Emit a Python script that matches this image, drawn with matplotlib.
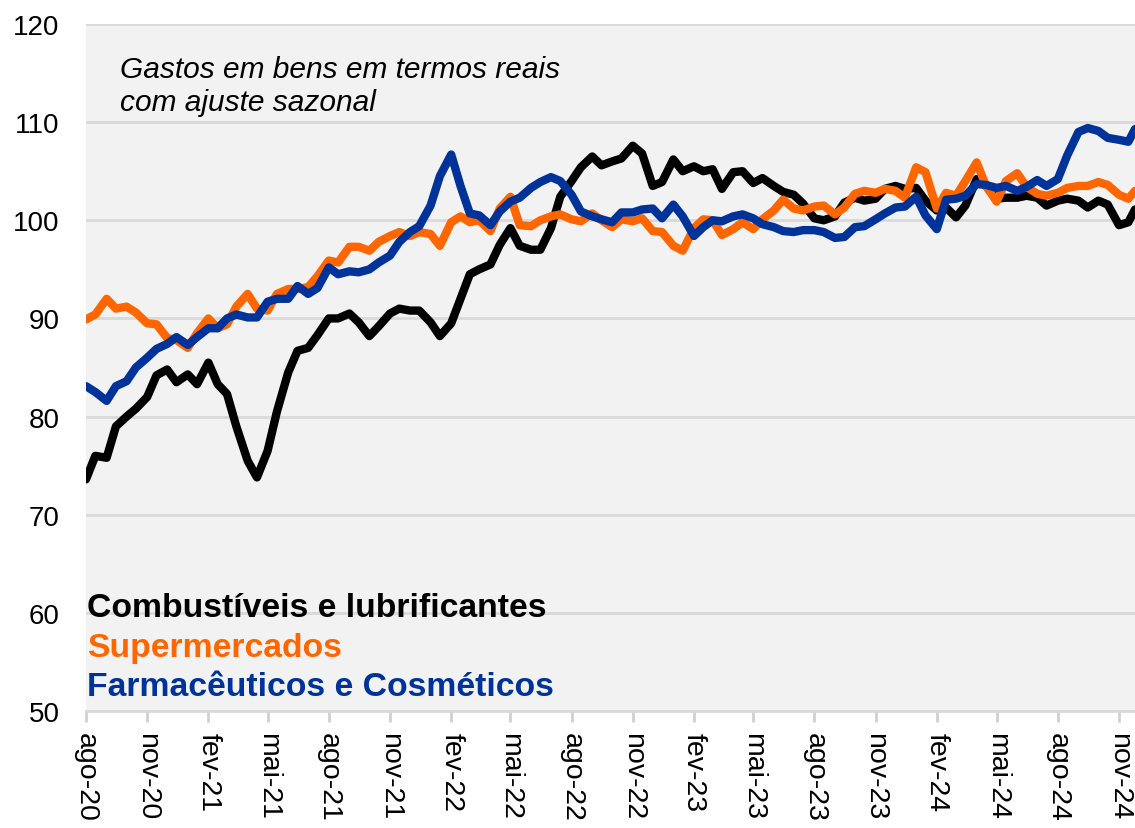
import matplotlib
matplotlib.use("Agg")
import matplotlib.pyplot as plt
import pandas as pd

plt.rcParams['font.family'] = ['Liberation Sans', 'DejaVu Sans']

# semi-monthly readings, ago-20 .. nov-24
dates = list(pd.date_range("2020-08-01", "2024-11-15", freq="SMS")) + [pd.Timestamp("2024-11-25")]

combustiveis = [
    73.6, 76.0, 75.8, 79.0, 80.0, 80.8, 82.0, 84.2, 84.8, 83.5,
    84.3, 83.3, 85.5, 83.3, 82.3, 79.0, 75.5, 73.8, 76.5, 80.5,
    84.5, 86.7, 87.0, 88.3, 90.0, 90.0, 90.5, 89.6, 88.2, 89.2,
    90.5, 91.0, 90.8, 90.8, 89.6, 88.2, 89.5, 92.0, 94.5, 95.0,
    95.5, 97.5, 99.2, 97.4, 97.0, 97.0, 99.2, 102.4, 104.0, 105.4,
    106.5, 105.6, 106.0, 106.3, 107.6, 106.8, 103.5, 103.9, 106.2, 105.0,
    105.5, 105.0, 105.2, 103.2, 104.9, 105.0, 103.8, 104.3, 103.5, 102.9,
    102.6, 101.7, 100.2, 100.0, 100.4, 101.8, 102.3, 102.0, 102.2, 103.2,
    103.5, 103.2, 103.3, 102.0, 101.0, 101.3, 100.3, 101.5, 104.2, 103.5,
    102.2, 102.3, 102.3, 102.5, 102.3, 101.5, 102.0, 102.2, 102.0, 101.3,
    102.0, 101.6, 99.5, 99.8, 101.1,
]

supermercados = [
    89.9, 90.4, 92.0, 91.0, 91.2, 90.6, 89.5, 89.4, 88.0, 87.8,
    87.0, 88.5, 90.0, 89.0, 89.4, 91.2, 92.5, 91.0, 90.8, 92.5,
    93.0, 93.0, 93.2, 94.3, 95.9, 95.7, 97.3, 97.3, 96.9, 97.8,
    98.4, 98.8, 98.4, 98.8, 98.6, 97.4, 99.8, 100.4, 99.8, 100.0,
    98.9, 101.2, 102.4, 99.5, 99.4, 100.0, 100.4, 100.6, 100.1, 99.9,
    100.7, 100.0, 99.3, 100.1, 99.9, 100.2, 98.9, 98.8, 97.4, 96.9,
    99.2, 100.1, 100.0, 98.5, 99.1, 99.8, 99.1, 100.1, 101.0, 102.1,
    101.2, 101.0, 101.4, 101.5, 100.6, 101.3, 102.7, 103.0, 102.8, 103.2,
    103.0, 102.3, 105.4, 104.9, 101.2, 102.8, 102.5, 104.0, 105.9, 103.5,
    101.9, 104.0, 104.8, 103.4, 102.7, 102.5, 102.8, 103.3, 103.5, 103.5,
    103.9, 103.6, 102.6, 102.2, 103.0,
]

farmaceuticos = [
    83.1, 82.5, 81.6, 83.1, 83.6, 85.0, 86.0, 86.9, 87.4, 88.1,
    87.3, 88.1, 89.0, 89.0, 90.0, 90.4, 90.1, 90.1, 91.7, 92.0,
    92.0, 93.3, 92.5, 93.1, 95.2, 94.5, 94.8, 94.7, 95.0, 95.7,
    96.4, 97.8, 98.8, 99.4, 101.5, 104.5, 106.7, 103.5, 100.7, 100.5,
    99.5, 100.9, 101.9, 102.3, 103.3, 103.9, 104.4, 104.0, 102.6, 100.9,
    100.4, 100.1, 99.8, 100.8, 100.8, 101.1, 101.2, 100.2, 101.6, 100.4,
    98.4, 99.3, 100.0, 99.9, 100.4, 100.6, 100.2, 99.6, 99.3, 98.9,
    98.8, 99.0, 99.0, 98.8, 98.2, 98.3, 99.3, 99.4, 100.1, 100.7,
    101.3, 101.4, 102.4, 100.5, 99.1, 102.1, 102.2, 102.5, 103.7, 103.6,
    103.3, 103.5, 103.0, 103.4, 104.1, 103.5, 104.2, 106.6, 109.0, 109.4,
    109.1, 108.4, 108.2, 108.0, 109.3,
]

series_names = ["Combustíveis e lubrificantes", "Supermercados", "Farmacêuticos e Cosméticos"]
colors = ["#000000", "#FF6600", "#003399"]

meses = ["jan", "fev", "mar", "abr", "mai", "jun", "jul", "ago", "set", "out", "nov", "dez"]
tick_dates = pd.date_range("2020-08-01", "2024-11-01", freq="3MS")
tick_labels = [f"{meses[d.month - 1]}-{d.strftime('%y')}" for d in tick_dates]

fig = plt.figure(figsize=(11.35, 8.29), dpi=100)
ax = fig.add_axes([86 / 1135, 117 / 829, 1049 / 1135, 687 / 829])
ax.set_facecolor("#F2F2F2")

for vals, c in zip([combustiveis, supermercados, farmaceuticos], colors):
    ax.plot(dates, vals, color=c, lw=6, solid_joinstyle="round", solid_capstyle="round")

ax.set_ylim(50, 120)
ax.set_yticks(range(50, 121, 10))
ax.set_xlim(pd.Timestamp("2020-08-01"), pd.Timestamp("2024-11-25"))
ax.set_xticks(tick_dates)
ax.set_xticklabels(tick_labels, rotation=270, fontsize=20.5)
ax.tick_params(axis="y", labelsize=20, length=0, pad=19)
ax.tick_params(axis="x", length=8, color="#D0D0D0", width=2, pad=7)

ax.grid(axis="y", color="#D9D9D9", lw=2)
ax.set_axisbelow(True)
for s in ["top", "right", "left"]:
    ax.spines[s].set_visible(False)
ax.spines["bottom"].set_color("#D9D9D9")
ax.spines["bottom"].set_linewidth(2)

ax.text(0.032, 0.934, "Gastos em bens em termos reais", transform=ax.transAxes,
        fontsize=21.5, style="italic", va="center", ha="left")
ax.text(0.032, 0.886, "com ajuste sazonal", transform=ax.transAxes,
        fontsize=21.5, style="italic", va="center", ha="left")

for i, (name, c) in enumerate(zip(series_names, colors)):
    ax.text(0.001, 0.150 - i * 0.057, name, transform=ax.transAxes, color=c,
            fontsize=24.3, fontweight="bold", va="center", ha="left")

fig.savefig("out.png", dpi=100)
